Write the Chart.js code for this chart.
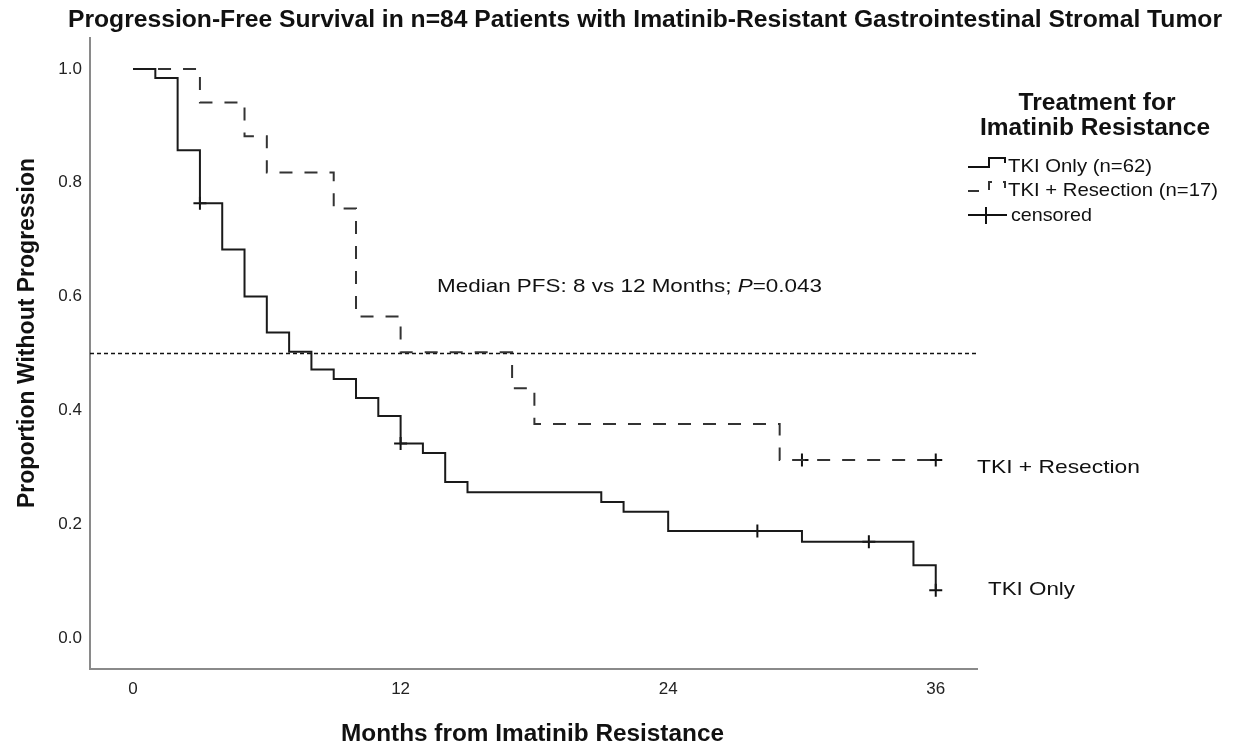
<!DOCTYPE html>
<html><head><meta charset="utf-8">
<script src="https://cdn.jsdelivr.net/npm/chart.js@4.4.1/dist/chart.umd.min.js"></script>
<style>html,body{margin:0;padding:0;background:#fff;}canvas{display:block;}</style>
</head><body>
<canvas id="c" width="1234" height="746"></canvas>
<script>
// ---------- text ----------
const chartTitle = "Progression-Free Survival in n=84 Patients with Imatinib-Resistant Gastrointestinal Stromal Tumor";
const xAxisTitle = "Months from Imatinib Resistance";
const yAxisTitle = "Proportion Without Progression";
const legendTitle = ["Treatment for", "Imatinib Resistance"];
const seriesNames = ["TKI Only (n=62)", "TKI + Resection (n=17)", "censored"];
const curveLabels = ["TKI + Resection", "TKI Only"];
const annotationParts = ["Median PFS: 8 vs 12 Months; ", "P", "=0.043"];

// ---------- axes ----------
const xTicks = [0, 12, 24, 36];
const yTicks = [0.0, 0.2, 0.4, 0.6, 0.8, 1.0];
const xMin = -1.93, xMax = 37.85;
const yMin = -0.0545, yMax = 1.0545;
const medianLevel = 0.5;

// ---------- data (Kaplan-Meier steps) ----------
const tkiOnlyMonths = [0, 1, 2, 3, 4, 5, 6, 7, 8, 9, 10, 11, 12, 13, 14, 15, 21, 22, 24, 30, 35, 36];
const tkiOnlySurv   = [1.0, 0.984, 0.857, 0.764, 0.683, 0.600, 0.537, 0.503, 0.472, 0.455, 0.422, 0.390, 0.342, 0.325, 0.274, 0.256, 0.239, 0.222, 0.188, 0.169, 0.128, 0.084];
const resectMonths  = [0, 3, 5, 6, 9, 10, 12, 17, 18, 29, 36];
const resectSurv    = [1.0, 0.941, 0.882, 0.818, 0.755, 0.565, 0.502, 0.439, 0.376, 0.313, 0.313];
const tkiOnlyCensorMonths = [3, 12, 28, 33, 36];
const tkiOnlyCensorSurv   = [0.764, 0.342, 0.188, 0.169, 0.084];
const resectCensorMonths  = [30, 36];
const resectCensorSurv    = [0.313, 0.313];

const toXY = (xs, ys) => xs.map((x, i) => ({x: x, y: ys[i]}));
const FONT = '"Liberation Sans", Arial, Helvetica, sans-serif';

function fitText(ctx, text, font, x, y, width, align) {
  ctx.save();
  ctx.font = font;
  const w = ctx.measureText(text).width;
  const sx = width / w;
  ctx.translate(x, y);
  ctx.scale(sx, 1);
  ctx.textAlign = 'left';
  ctx.textBaseline = 'alphabetic';
  const x0 = align === 'center' ? -w / 2 : (align === 'right' ? -w : 0);
  ctx.fillText(text, x0, 0);
  ctx.restore();
}

const decorPlugin = {
  id: 'decor',
  afterDraw(chart) {
    const ctx = chart.ctx;
    ctx.save();
    ctx.fillStyle = '#111';
    // title
    fitText(ctx, chartTitle, 'bold 23px ' + FONT, 645, 26.5, 1154, 'center');
    // x axis title
    fitText(ctx, xAxisTitle, 'bold 23px ' + FONT, 532.5, 741, 383, 'center');
    // y axis title
    ctx.save();
    ctx.translate(34, 333);
    ctx.rotate(-Math.PI / 2);
    fitText(ctx, yAxisTitle, 'bold 23px ' + FONT, 0, 0, 350, 'center');
    ctx.restore();
    // legend title
    fitText(ctx, legendTitle[0], 'bold 23px ' + FONT, 1097, 110, 157, 'center');
    fitText(ctx, legendTitle[1], 'bold 23px ' + FONT, 1095, 135, 230, 'center');
    // legend items
    const itemFont = '18.5px ' + FONT;
    fitText(ctx, seriesNames[0], itemFont, 1008, 172, 144, 'left');
    fitText(ctx, seriesNames[1], itemFont, 1008, 196, 210, 'left');
    fitText(ctx, seriesNames[2], itemFont, 1011, 221, 81, 'left');
    // legend symbols
    ctx.strokeStyle = '#111';
    ctx.lineWidth = 2;
    ctx.setLineDash([]);
    ctx.beginPath();
    ctx.moveTo(968, 167); ctx.lineTo(989, 167); ctx.lineTo(989, 158); ctx.lineTo(1005, 158); ctx.lineTo(1005, 163);
    ctx.stroke();
    ctx.strokeStyle = '#333';
    ctx.setLineDash([11, 11]);
    ctx.beginPath();
    ctx.moveTo(968, 191); ctx.lineTo(989, 191); ctx.lineTo(989, 182); ctx.lineTo(1005, 182); ctx.lineTo(1005, 188);
    ctx.stroke();
    ctx.setLineDash([]);
    ctx.strokeStyle = '#111';
    ctx.beginPath();
    ctx.moveTo(968, 215); ctx.lineTo(1007, 215);
    ctx.moveTo(986, 207); ctx.lineTo(986, 224);
    ctx.stroke();
    // annotation with italic P
    const aSize = 19;
    const fonts = [aSize + 'px ' + FONT, 'italic ' + aSize + 'px ' + FONT, aSize + 'px ' + FONT];
    let widths = annotationParts.map((t, i) => { ctx.font = fonts[i]; return ctx.measureText(t).width; });
    const total = widths.reduce((a, b) => a + b, 0);
    const sx = 385 / total;
    let ax = 437;
    annotationParts.forEach((t, i) => {
      fitText(ctx, t, fonts[i], ax, 291.5, widths[i] * sx, 'left');
      ax += widths[i] * sx;
    });
    // curve labels
    fitText(ctx, curveLabels[0], '19px ' + FONT, 977, 473, 163, 'left');
    fitText(ctx, curveLabels[1], '19px ' + FONT, 988, 595, 87, 'left');
    ctx.restore();
  }
};

new Chart(document.getElementById('c'), {
  type: 'line',
  data: {
    datasets: [
      { label: seriesNames[0], data: toXY(tkiOnlyMonths, tkiOnlySurv), stepped: true,
        borderColor: '#1a1a1a', borderWidth: 2, pointRadius: 0, fill: false },
      { label: seriesNames[1], data: toXY(resectMonths, resectSurv), stepped: true,
        borderColor: '#333', borderWidth: 2, borderDash: [13, 12], pointRadius: 0, fill: false },
      { label: 'censored TKI', data: toXY(tkiOnlyCensorMonths, tkiOnlyCensorSurv), showLine: false,
        pointStyle: 'cross', pointRadius: 6.5, pointBorderWidth: 2, pointBorderColor: '#111', borderColor: '#111' },
      { label: 'censored resection', data: toXY(resectCensorMonths, resectCensorSurv), showLine: false,
        pointStyle: 'cross', pointRadius: 6.5, pointBorderWidth: 2, pointBorderColor: '#111', borderColor: '#111' },
      { label: 'median', data: [{x: xMin, y: medianLevel}, {x: xMax, y: medianLevel}],
        borderColor: '#111', borderWidth: 1.5, borderDash: [4, 3], pointRadius: 0, fill: false }
    ]
  },
  options: {
    responsive: false,
    animation: false,
    events: [],
    layout: { padding: { top: 38, left: 0, right: 0, bottom: 0 } },
    plugins: { legend: { display: false }, title: { display: false }, tooltip: { enabled: false } },
    scales: {
      x: {
        type: 'linear', min: xMin, max: xMax,
        grid: { display: false, drawTicks: false },
        border: { display: true, color: '#8a8a8a', width: 2 },
        afterBuildTicks: (s) => { s.ticks = xTicks.map(v => ({value: v})); },
        afterFit: (s) => { s.height = 77; },
        ticks: { color: '#222', font: { family: FONT, size: 17 }, padding: 10, maxRotation: 0,
                 callback: (v) => String(v) }
      },
      y: {
        type: 'linear', min: yMin, max: yMax,
        grid: { display: false, drawTicks: false },
        border: { display: true, color: '#8a8a8a', width: 2 },
        afterBuildTicks: (s) => { s.ticks = yTicks.map(v => ({value: v})); },
        afterFit: (s) => { s.width = 90; },
        ticks: { color: '#222', font: { family: FONT, size: 17 }, padding: 8,
                 callback: (v) => Number(v).toFixed(1) }
      },
      yRight: {
        type: 'linear', position: 'right', display: true,
        grid: { display: false, drawTicks: false },
        border: { display: false },
        ticks: { display: false },
        afterFit: (s) => { s.width = 257; }
      }
    }
  },
  plugins: [decorPlugin]
});
</script>
</body></html>
